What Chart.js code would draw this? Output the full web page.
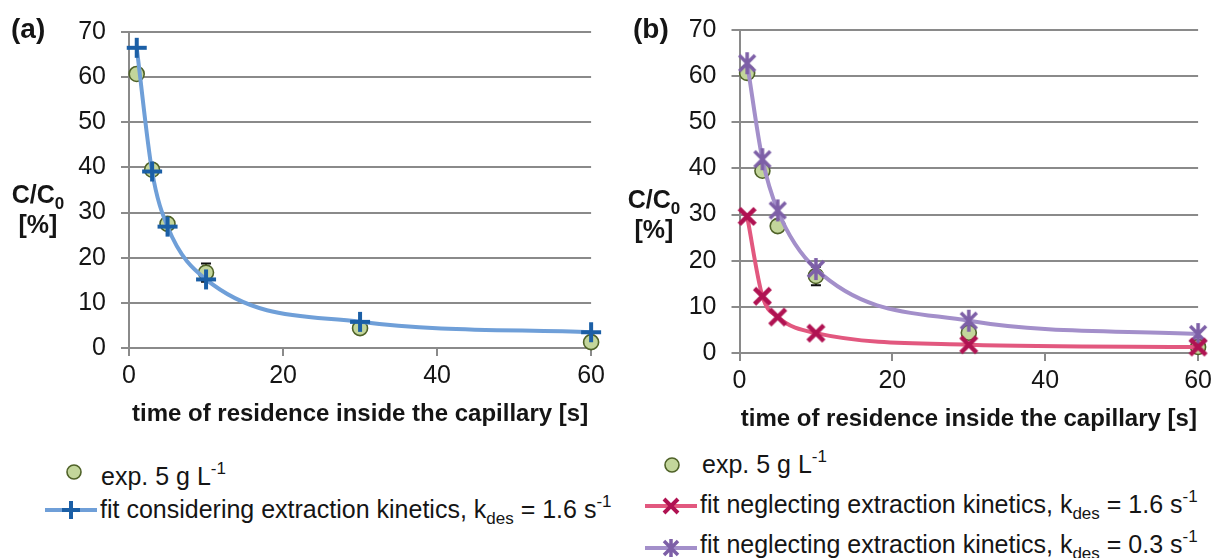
<!DOCTYPE html>
<html><head><meta charset="utf-8">
<script src="https://cdn.jsdelivr.net/npm/chart.js@4/dist/chart.umd.min.js"></script>
<style>
html,body{margin:0;padding:0;background:#fff;}
#wrap{position:relative;width:1217px;height:558px;overflow:hidden;font-family:"Liberation Sans",Arial,sans-serif;color:#151515;}
canvas{position:absolute;}
.txt{position:absolute;white-space:nowrap;font-size:25px;line-height:30px;}
.b{font-weight:bold;}
.sub,.sup{font-size:17px;position:relative;line-height:0;}
.sub{top:6px;}
.sup{top:-11px;}
#icons{position:absolute;left:0;top:0;}
</style></head>
<body><div id="wrap">
<canvas id="cA" width="610" height="440" style="left:0;top:0;width:610px;height:440px"></canvas>
<canvas id="cB" width="607" height="440" style="left:610px;top:0;width:607px;height:440px"></canvas>

<div class="txt b" style="left:11px;top:13px;font-size:28px;line-height:32px">(a)</div>
<div class="txt b" style="left:633px;top:13px;font-size:28px;line-height:32px">(b)</div>

<div class="txt b" style="left:-2px;top:179px;width:80px;text-align:center">C/C<span class="sub">0</span><br>[%]</div>
<div class="txt b" style="left:614px;top:184px;width:80px;text-align:center">C/C<span class="sub">0</span><br>[%]</div>

<div class="txt" style="left:101px;top:461px">exp. 5 g L<span class="sup">-1</span></div>
<div class="txt" style="left:100px;top:494px">fit considering extraction kinetics, k<span class="sub">des</span> = 1.6 s<span class="sup">-1</span></div>
<div class="txt" style="left:702px;top:449px">exp. 5 g L<span class="sup">-1</span></div>
<div class="txt" style="left:700px;top:489px">fit neglecting extraction kinetics, k<span class="sub">des</span> = 1.6 s<span class="sup">-1</span></div>
<div class="txt" style="left:700px;top:529px">fit neglecting extraction kinetics, k<span class="sub">des</span> = 0.3 s<span class="sup">-1</span></div>

<svg id="icons" width="1217" height="558">
  <circle cx="74" cy="472" r="7" fill="#c3d69b" stroke="#4f6228" stroke-width="1.6"/>
  <line x1="45" y1="510" x2="97" y2="510" stroke="#6f9fd8" stroke-width="4"/>
  <path d="M62 510 H80 M71 501 V519" stroke="#1b5fa6" stroke-width="4"/>
  <circle cx="672" cy="465" r="7" fill="#c3d69b" stroke="#4f6228" stroke-width="1.6"/>
  <line x1="645" y1="506" x2="697" y2="506" stroke="#e2587f" stroke-width="4"/>
  <path d="M664 499 L678 513 M678 499 L664 513" stroke="#b01252" stroke-width="4"/>
  <line x1="645" y1="548" x2="697" y2="548" stroke="#a38fca" stroke-width="4"/>
  <path d="M664 541 L678 555 M678 541 L664 555 M671 539 V557" stroke="#7d5fa7" stroke-width="3.5"/>
</svg>
</div>
<script>
// ---- data ----
const timeS = [1, 3, 5, 10, 30, 60];
const expC = [60.7, 39.5, 27.5, 16.7, 4.4, 1.3];
const expErr = [0.8, 0.8, 0.8, 2.0, 0.5, 0.5];
const fitKin16 = [66.5, 39.1, 26.9, 15.2, 5.8, 3.5];
const fitNoKin16 = [29.6, 12.3, 7.8, 4.3, 1.8, 1.3];
const fitNoKin03 = [62.8, 42.0, 30.9, 18.2, 7.0, 4.1];
const yTickVals = [0, 10, 20, 30, 40, 50, 60, 70];
const xTickVals = [0, 20, 40, 60];
const xTitle = 'time of residence inside the capillary [s]';

const GRID = '#8a8a8a';
const FONT = '"Liberation Sans", Arial, sans-serif';

function pts(arr){ return timeS.map((x,i)=>({x:x, y:arr[i]})); }

function marker(kind, color, size, lw){
  const s = Math.ceil(size + lw + 2);
  const c = document.createElement('canvas'); c.width = s; c.height = s;
  const g = c.getContext('2d'); const m = s/2, h = size/2;
  g.strokeStyle = color; g.lineWidth = lw; g.lineCap = 'butt';
  g.beginPath();
  if (kind === 'plus'){
    g.moveTo(m-h, m); g.lineTo(m+h, m); g.moveTo(m, m-h); g.lineTo(m, m+h);
  } else {
    const d = h*0.72;
    g.moveTo(m-d, m-d); g.lineTo(m+d, m+d); g.moveTo(m+d, m-d); g.lineTo(m-d, m+d);
    if (kind === 'star'){ g.moveTo(m, m-h); g.lineTo(m, m+h); }
  }
  g.stroke();
  return c;
}

const errPlugin = {
  id: 'errbars',
  beforeDatasetsDraw(chart){
    const xs = chart.scales.x, ys = chart.scales.y, g = chart.ctx;
    g.save(); g.strokeStyle = '#111'; g.lineWidth = 2;
    timeS.forEach((t,i)=>{
      const px = xs.getPixelForValue(t);
      const y1 = ys.getPixelForValue(expC[i] + expErr[i]);
      const y2 = ys.getPixelForValue(expC[i] - expErr[i]);
      g.beginPath();
      g.moveTo(px, y1); g.lineTo(px, y2);
      g.moveTo(px-5, y1); g.lineTo(px+5, y1);
      g.moveTo(px-5, y2); g.lineTo(px+5, y2);
      g.stroke();
    });
    g.restore();
  }
};

function expDataset(){
  return { label:'exp. 5 g L-1', data: pts(expC), showLine:false, clip:false,
    pointStyle:'circle', pointRadius:7.5, pointBackgroundColor:'#c3d69b',
    pointBorderColor:'#4f6228', pointBorderWidth:1.6 };
}
function fitDataset(label, arr, lineColor, mk){
  return { label, data: pts(arr), showLine:true, clip:false, borderColor: lineColor, borderWidth:4,
    cubicInterpolationMode:'monotone', pointStyle: mk, pointRadius:10, fill:false };
}

function makeOptions(cfg){
  return {
    responsive:false, animation:false, devicePixelRatio:1,
    layout:{ padding:{ top:cfg.top, right:cfg.right, left:0, bottom:0 } },
    plugins:{ legend:{display:false}, tooltip:{enabled:false} },
    scales:{
      x:{ type:'linear', min:0, max:60,
        afterBuildTicks(s){ s.ticks = xTickVals.map(v=>({value:v})); },
        afterFit(s){ s.height = cfg.xh; },
        grid:{ drawOnChartArea:false, drawTicks:true, tickLength:8, color:GRID, lineWidth:2 },
        border:{ display:true, color:GRID, width:2 },
        ticks:{ padding:cfg.xpad, color:'#151515', font:{family:FONT, size:25}, maxRotation:0 },
        title:{ display:true, text:xTitle, color:'#151515', font:{family:FONT, size:24, weight:'bold'},
          padding:{ top:0, bottom:cfg.tpad } }
      },
      y:{ min:0, max:70,
        afterBuildTicks(s){ s.ticks = yTickVals.map(v=>({value:v})); },
        afterFit(s){ s.width = cfg.yw; },
        grid:{ drawTicks:true, tickLength:8, color:GRID, lineWidth:2 },
        border:{ display:true, color:GRID, width:2 },
        ticks:{ padding:15, color:'#151515', font:{family:FONT, size:25} }
      }
    }
  };
}

new Chart(document.getElementById('cA'), {
  type:'scatter',
  data:{ datasets:[
    fitDataset('fit considering extraction kinetics, kdes = 1.6 s-1', fitKin16, '#6f9fd8', marker('plus','#1b5fa6',20,4)),
    expDataset()
  ]},
  options: makeOptions({top:32, right:15, xh:92, yw:129, xpad:5, tpad:11}),
  plugins:[errPlugin]
});

new Chart(document.getElementById('cB'), {
  type:'scatter',
  data:{ datasets:[
    fitDataset('fit neglecting extraction kinetics, kdes = 1.6 s-1', fitNoKin16, '#e2587f', marker('cross','#b01252',22,4.5)),
    fitDataset('fit neglecting extraction kinetics, kdes = 0.3 s-1', fitNoKin03, '#a38fca', marker('star','#7d5fa7',22,3.5)),
    expDataset()
  ]},
  options: makeOptions({top:30, right:17, xh:87, yw:129.5, xpad:5, tpad:6}),
  plugins:[errPlugin]
});
</script>
</body></html>
